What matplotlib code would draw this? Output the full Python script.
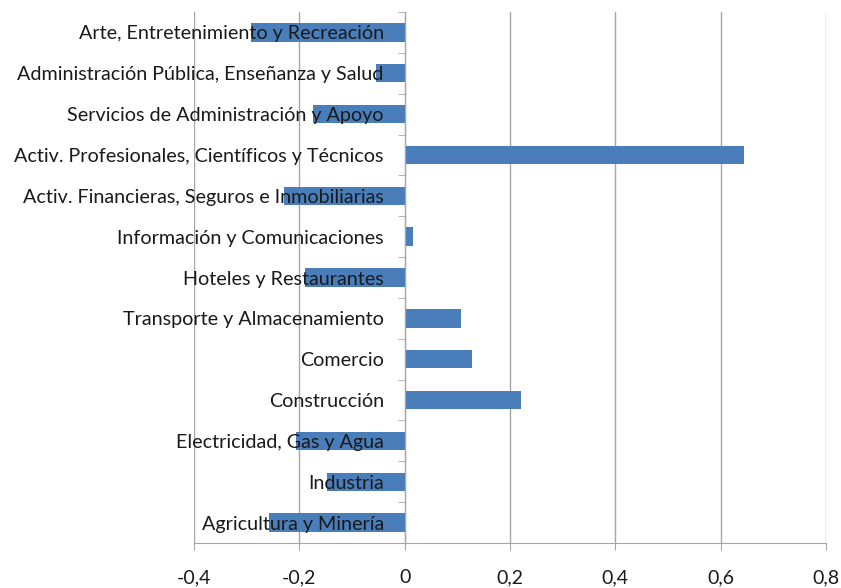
import matplotlib.pyplot as plt
from matplotlib.ticker import FuncFormatter, MultipleLocator

# Sectors, bottom to top as in the chart
sectores = [
    'Agricultura y Minería',
    'Industria',
    'Electricidad, Gas y Agua',
    'Construcción',
    'Comercio',
    'Transporte y Almacenamiento',
    'Hoteles y Restaurantes',
    'Información y Comunicaciones',
    'Activ. Financieras, Seguros e Inmobiliarias',
    'Activ. Profesionales, Científicos y Técnicos',
    'Servicios de Administración y Apoyo',
    'Administración Pública, Enseñanza y Salud',
    'Arte, Entretenimiento y Recreación',
]
valores = [-0.257, -0.147, -0.206, 0.221, 0.128, 0.106, -0.19,
           0.016, -0.23, 0.644, -0.174, -0.054, -0.292]

plt.rcParams['font.family'] = ['Lato', 'DejaVu Sans']

fig = plt.figure(figsize=(8.41, 5.88), dpi=100)
ax = fig.add_axes([0.2307, 0.0765, 0.7515, 0.9031])

pos = list(range(len(sectores)))
ax.barh(pos, valores, height=0.45, color='#4A7EBB', zorder=1)

ax.set_xlim(-0.4, 0.8)
ax.set_ylim(-0.5, len(sectores) - 0.5)
ax.xaxis.set_major_locator(MultipleLocator(0.2))
ax.xaxis.set_major_formatter(FuncFormatter(lambda v, p: ('%g' % round(v, 1)).replace('.', ',')))
ax.grid(axis='x', color='#A6A6A6', linewidth=1)
ax.set_axisbelow(True)
# sector names go over the bars, like the original
ax.yaxis.set_zorder(3)

# category axis crosses at zero
ax.spines['left'].set_position(('data', 0))
for s in ['top', 'right']:
    ax.spines[s].set_visible(False)
ax.spines['left'].set_color('#A6A6A6')
ax.spines['bottom'].set_color('#A6A6A6')

ax.set_yticks(pos)
ax.set_yticklabels(sectores)
ax.tick_params(axis='y', which='major', length=0, pad=15, labelsize=14.2, labelcolor='#1A1A1A')
ax.set_yticks([p - 0.5 for p in pos] + [len(sectores) - 0.5], minor=True)
ax.tick_params(axis='y', which='minor', length=5, color='#A6A6A6', direction='out')
ax.tick_params(axis='x', length=5, color='#A6A6A6', labelsize=14, pad=14, labelcolor='#1A1A1A')

plt.savefig('out.png', dpi=100)
